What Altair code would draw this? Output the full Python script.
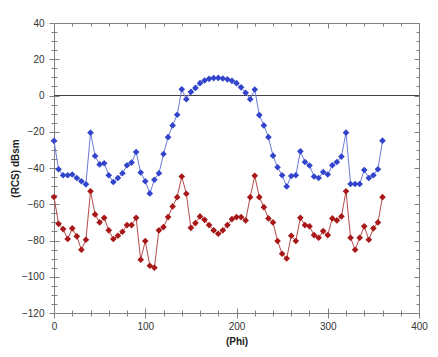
import altair as alt
import pandas as pd

# ---- data ----
phi = list(range(0, 361, 5))
rcs_blue = [-25, -40.7, -44, -44, -43.6, -45.5, -47.3, -49, -20.5, -33.4,
            -38, -37.4, -44, -47.7, -45.5, -42.9, -38.5, -37, -31.2, -42.5,
            -47.3, -54, -46.5, -42.9, -32.3, -23, -16.5, -10.6, 3.4, -2.1,
            2.0, 4.2, 6.8, 8.3, 9.2, 9.6, 9.7, 9.4, 8.9, 8.1,
            6.8, 4.5, 1.5, -2.1, 3.3, -10.8, -16.5, -23, -33.2, -39.6,
            -44, -50.2, -44.4, -44, -30.8, -36.7, -38.6, -44.7, -45.5, -42.2,
            -43.6, -38.5, -36.7, -33.7, -20.5, -48.8, -48.8, -48.8, -41.1, -45.5,
            -44, -40.7, -24.9]
rcs_red = [-56, -70.8, -73.7, -79.2, -73.3, -77.7, -85.1, -79.6, -52.8, -65.6,
           -70, -67.5, -74.4, -79.2, -77.4, -75.2, -71.5, -71.5, -67.5, -90.6,
           -80.3, -93.9, -95, -74.4, -72.6, -67.1, -61.2, -56.1, -44.7, -54.2,
           -73, -70.4, -66.7, -68.6, -71.5, -74.4, -76.3, -74.4, -71.5, -68.2,
           -67.1, -67.1, -68.9, -56.1, -44.3, -56.1, -61.6, -67.8, -70, -80.3,
           -87.3, -89.9, -77.4, -80.3, -67.5, -71.5, -72.2, -77, -78.5, -74.8,
           -77, -67.8, -68.9, -66.7, -52.8, -78.5, -85.1, -78.5, -72.2, -79.6,
           -73.3, -70, -56.1]
series_names = ["Blue", "Red"]
line_colors = ["#6c7ad8", "#b54a4a"]
point_colors = ["#3344cc", "#a81818"]
zero_level = [0]
x_major = [0, 100, 200, 300, 400]
x_minor = list(range(0, 401, 20))
y_major = list(range(-120, 41, 20))
y_minor = list(range(-120, 41, 5))

df = pd.DataFrame({
    "phi": phi + phi,
    "rcs": rcs_blue + rcs_red,
    "series": [series_names[0]] * len(phi) + [series_names[1]] * len(phi),
})
zero_df = pd.DataFrame({"y": zero_level})

xs = alt.Scale(domain=[0, 400], nice=False, zero=False)
ys = alt.Scale(domain=[-120, 40], nice=False, zero=False)

AX = "#808080"
FONT = "Liberation Sans"


def axis_layer(x_axis, y_axis):
    return alt.Chart(df).mark_point(opacity=0).encode(
        x=alt.X("phi:Q", scale=xs, axis=x_axis),
        y=alt.Y("rcs:Q", scale=ys, axis=y_axis),
    )


def tick_axis(orient, values, size, offset):
    return alt.Axis(orient=orient, values=values, tickSize=size, offset=offset,
                    labels=False, domain=False, grid=False, title=None,
                    tickColor=AX, tickWidth=1)


main_axes = axis_layer(
    alt.Axis(orient="bottom", values=x_major, tickSize=5, title="(Phi)",
             labelFlush=False, labelOverlap=False, labelPadding=3,
             labelFont=FONT, labelFontSize=10, labelColor="#333333",
             titleFont=FONT, titleFontSize=10, titleFontWeight="bold",
             titleColor="#222222", titlePadding=5,
             domainColor=AX, tickColor=AX, grid=False),
    alt.Axis(orient="left", values=y_major, tickSize=5, title="(RCS) dBsm",
             labelOverlap=False, labelPadding=5,
             labelFont=FONT, labelFontSize=10, labelColor="#333333",
             titleFont=FONT, titleFontSize=10, titleFontWeight="bold",
             titleColor="#222222", titlePadding=1,
             domainColor=AX, tickColor=AX, grid=False),
)

layers = [
    main_axes,
    axis_layer(tick_axis("bottom", x_minor, 3, 0), tick_axis("left", y_minor, 3, 0)),
    axis_layer(tick_axis("bottom", x_major, 5, -5), tick_axis("left", y_major, 5, -5)),
    axis_layer(tick_axis("bottom", x_minor, 3, -3), tick_axis("left", y_minor, 3, -3)),
    axis_layer(tick_axis("top", x_major, 5, -5), tick_axis("right", y_major, 5, -5)),
    axis_layer(tick_axis("top", x_minor, 3, -3), tick_axis("right", y_minor, 3, -3)),
    alt.Chart(zero_df).mark_rule(color="#444444", strokeWidth=1).encode(
        y=alt.Y("y:Q", scale=ys, axis=None)
    ),
]

for name, lc, pc in zip(series_names, line_colors, point_colors):
    base = alt.Chart(df).transform_filter(alt.datum.series == name)
    layers.append(base.mark_line(color=lc, strokeWidth=1).encode(
        x=alt.X("phi:Q", scale=xs, axis=None),
        y=alt.Y("rcs:Q", scale=ys, axis=None),
    ))
    layers.append(base.mark_point(shape="diamond", filled=True, size=44,
                                  color=pc, opacity=1).encode(
        x=alt.X("phi:Q", scale=xs, axis=None),
        y=alt.Y("rcs:Q", scale=ys, axis=None),
    ))

chart = alt.layer(*layers).resolve_axis(
    x="independent", y="independent"
).properties(
    width=365, height=290,
    autosize=alt.AutoSizeParams(type="none"),
    padding={"left": 46, "top": 15, "right": 11, "bottom": 36},
    background="white",
).configure_view(stroke=AX, strokeWidth=1)

chart.save("out.html", embed_options={"renderer": "svg", "actions": False})
